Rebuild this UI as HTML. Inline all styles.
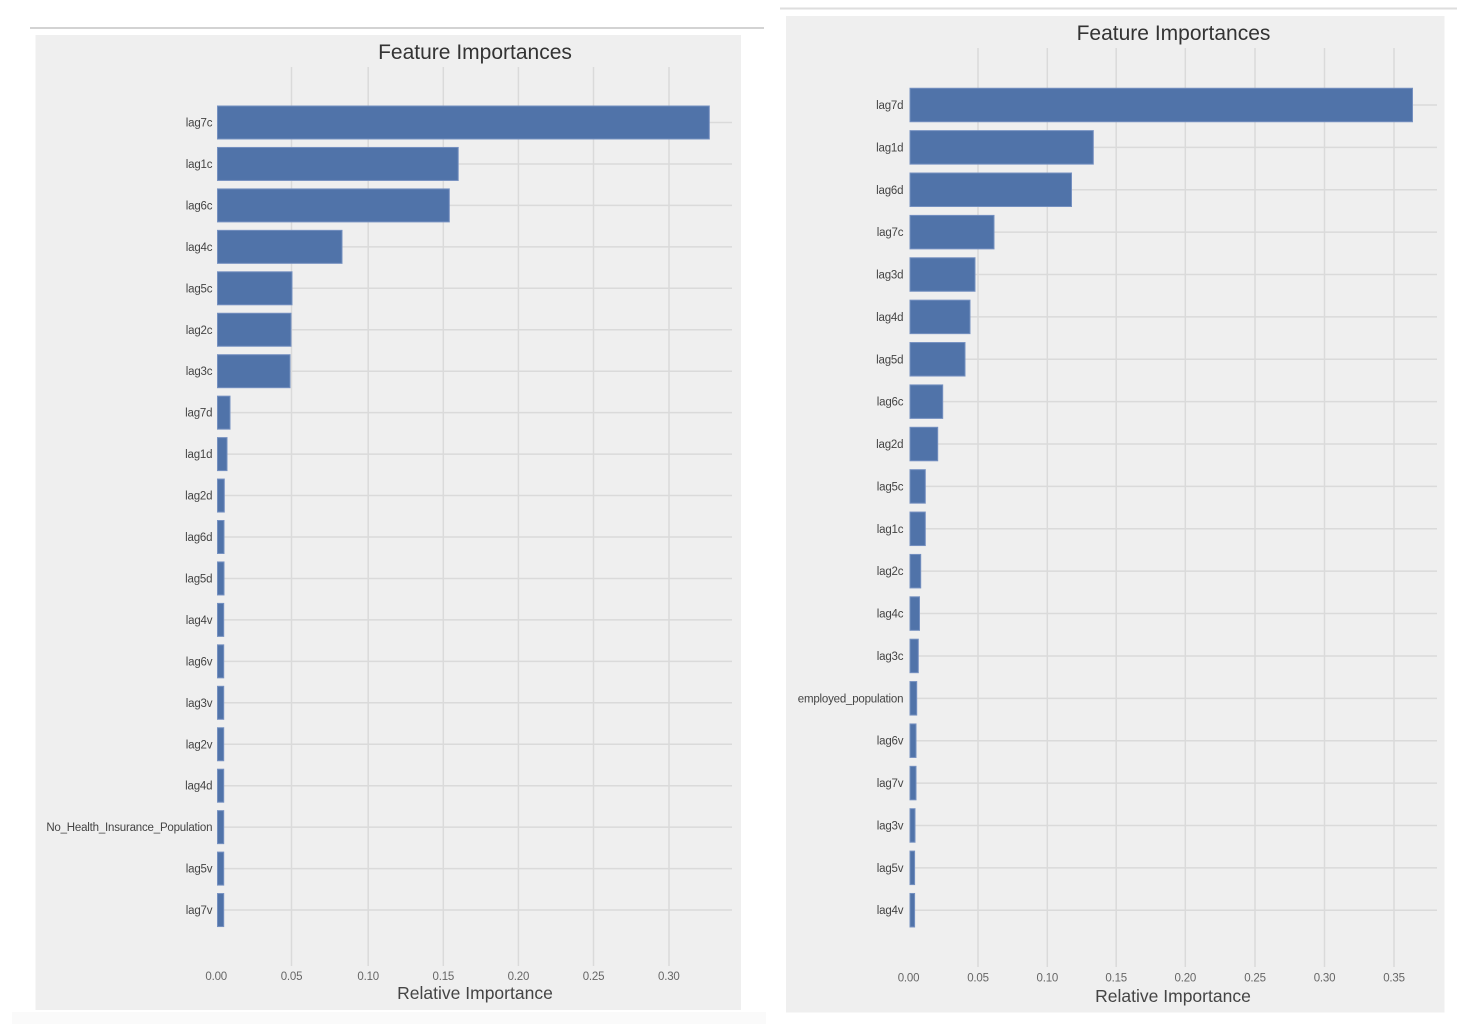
<!DOCTYPE html>
<html>
<head>
<meta charset="utf-8">
<style>
html,body{margin:0;padding:0;background:#ffffff;}
body{width:1474px;height:1030px;overflow:hidden;}
svg{display:block;}
text{font-family:"Liberation Sans",Arial,sans-serif;}
.yl{font-size:11.5px;fill:#444;text-anchor:end;letter-spacing:-0.2px;}
.xt{font-size:11.5px;fill:#666;text-anchor:middle;letter-spacing:-0.2px;}
.ttl{font-size:21px;fill:#333;text-anchor:middle;}
.xl{font-size:17.5px;fill:#444;text-anchor:middle;}
.g{stroke:#dadada;stroke-width:1.5;}
.b{fill:#5073a9;stroke:#7590c0;stroke-width:1;}
</style>
</head>
<body>
<svg width="1474" height="1030" viewBox="0 0 1474 1030" xmlns="http://www.w3.org/2000/svg">
<!-- separators -->
<line x1="30" y1="28" x2="764" y2="28" stroke="#d3d3d3" stroke-width="2"/>
<line x1="780" y1="8.5" x2="1457" y2="8.5" stroke="#dedede" stroke-width="2"/>
<rect x="12" y="1012" width="754" height="12" fill="#fafafa"/>

<!-- LEFT PANEL -->
<rect x="35.5" y="35" width="705.5" height="975" fill="#efefef"/>
<text class="ttl" x="475" y="59">Feature Importances</text>
<!-- vertical grid -->
<g class="g">
<line x1="291.5" y1="67" x2="291.5" y2="966"/>
<line x1="368.2" y1="67" x2="368.2" y2="966"/>
<line x1="443.3" y1="67" x2="443.3" y2="966"/>
<line x1="518.4" y1="67" x2="518.4" y2="966"/>
<line x1="593.5" y1="67" x2="593.5" y2="966"/>
<line x1="669" y1="67" x2="669" y2="966"/>
</g>
<!-- horizontal grid -->
<g class="g">
<line x1="217" y1="122.5" x2="732" y2="122.5"/>
<line x1="217" y1="163.95" x2="732" y2="163.95"/>
<line x1="217" y1="205.4" x2="732" y2="205.4"/>
<line x1="217" y1="246.85" x2="732" y2="246.85"/>
<line x1="217" y1="288.3" x2="732" y2="288.3"/>
<line x1="217" y1="329.75" x2="732" y2="329.75"/>
<line x1="217" y1="371.2" x2="732" y2="371.2"/>
<line x1="217" y1="412.65" x2="732" y2="412.65"/>
<line x1="217" y1="454.1" x2="732" y2="454.1"/>
<line x1="217" y1="495.55" x2="732" y2="495.55"/>
<line x1="217" y1="537" x2="732" y2="537"/>
<line x1="217" y1="578.45" x2="732" y2="578.45"/>
<line x1="217" y1="619.9" x2="732" y2="619.9"/>
<line x1="217" y1="661.35" x2="732" y2="661.35"/>
<line x1="217" y1="702.8" x2="732" y2="702.8"/>
<line x1="217" y1="744.25" x2="732" y2="744.25"/>
<line x1="217" y1="785.7" x2="732" y2="785.7"/>
<line x1="217" y1="827.15" x2="732" y2="827.15"/>
<line x1="217" y1="868.6" x2="732" y2="868.6"/>
<line x1="217" y1="910.05" x2="732" y2="910.05"/>
</g>
<!-- bars -->
<g class="b">
<rect x="217.5" y="106" width="491.8" height="33"/>
<rect x="217.5" y="147.45" width="240.7" height="33"/>
<rect x="217.5" y="188.9" width="231.8" height="33"/>
<rect x="217.5" y="230.35" width="124.5" height="33"/>
<rect x="217.5" y="271.8" width="74.5" height="33"/>
<rect x="217.5" y="313.25" width="73.5" height="33"/>
<rect x="217.5" y="354.7" width="72.5" height="33"/>
<rect x="217.5" y="396.15" width="12.5" height="33"/>
<rect x="217.5" y="437.6" width="9.5" height="33"/>
<rect x="217.5" y="479.05" width="6.8" height="33"/>
<rect x="217.5" y="520.5" width="6.5" height="33"/>
<rect x="217.5" y="561.95" width="6.5" height="33"/>
<rect x="217.5" y="603.4" width="6.2" height="33"/>
<rect x="217.5" y="644.85" width="6.2" height="33"/>
<rect x="217.5" y="686.3" width="6.2" height="33"/>
<rect x="217.5" y="727.75" width="6.2" height="33"/>
<rect x="217.5" y="769.2" width="6.2" height="33"/>
<rect x="217.5" y="810.65" width="6.2" height="33"/>
<rect x="217.5" y="852.1" width="6.2" height="33"/>
<rect x="217.5" y="893.55" width="6.2" height="33"/>
</g>
<!-- y labels -->
<g class="yl">
<text x="212.3" y="126.5">lag7c</text>
<text x="212.3" y="167.95">lag1c</text>
<text x="212.3" y="209.4">lag6c</text>
<text x="212.3" y="250.85">lag4c</text>
<text x="212.3" y="292.3">lag5c</text>
<text x="212.3" y="333.75">lag2c</text>
<text x="212.3" y="375.2">lag3c</text>
<text x="212.3" y="416.65">lag7d</text>
<text x="212.3" y="458.1">lag1d</text>
<text x="212.3" y="499.55">lag2d</text>
<text x="212.3" y="541">lag6d</text>
<text x="212.3" y="582.45">lag5d</text>
<text x="212.3" y="623.9">lag4v</text>
<text x="212.3" y="665.35">lag6v</text>
<text x="212.3" y="706.8">lag3v</text>
<text x="212.3" y="748.25">lag2v</text>
<text x="212.3" y="789.7">lag4d</text>
<text x="212.3" y="831.15">No_Health_Insurance_Population</text>
<text x="212.3" y="872.6">lag5v</text>
<text x="212.3" y="914.05">lag7v</text>
</g>
<!-- x ticks -->
<g class="xt">
<text x="216.2" y="980">0.00</text>
<text x="291.5" y="980">0.05</text>
<text x="368.2" y="980">0.10</text>
<text x="443.3" y="980">0.15</text>
<text x="518.4" y="980">0.20</text>
<text x="593.5" y="980">0.25</text>
<text x="668.8" y="980">0.30</text>
</g>
<text class="xl" x="475" y="999">Relative Importance</text>

<!-- RIGHT PANEL -->
<rect x="786" y="16" width="658.5" height="996.5" fill="#efefef"/>
<text class="ttl" x="1173.5" y="40">Feature Importances</text>
<g class="g">
<line x1="978" y1="48" x2="978" y2="967"/>
<line x1="1047.3" y1="48" x2="1047.3" y2="967"/>
<line x1="1116.2" y1="48" x2="1116.2" y2="967"/>
<line x1="1185.3" y1="48" x2="1185.3" y2="967"/>
<line x1="1255" y1="48" x2="1255" y2="967"/>
<line x1="1324.5" y1="48" x2="1324.5" y2="967"/>
<line x1="1394" y1="48" x2="1394" y2="967"/>
</g>
<g class="g">
<line x1="910" y1="105" x2="1437" y2="105"/>
<line x1="910" y1="147.38" x2="1437" y2="147.38"/>
<line x1="910" y1="189.76" x2="1437" y2="189.76"/>
<line x1="910" y1="232.14" x2="1437" y2="232.14"/>
<line x1="910" y1="274.52" x2="1437" y2="274.52"/>
<line x1="910" y1="316.9" x2="1437" y2="316.9"/>
<line x1="910" y1="359.28" x2="1437" y2="359.28"/>
<line x1="910" y1="401.66" x2="1437" y2="401.66"/>
<line x1="910" y1="444.04" x2="1437" y2="444.04"/>
<line x1="910" y1="486.42" x2="1437" y2="486.42"/>
<line x1="910" y1="528.8" x2="1437" y2="528.8"/>
<line x1="910" y1="571.18" x2="1437" y2="571.18"/>
<line x1="910" y1="613.56" x2="1437" y2="613.56"/>
<line x1="910" y1="655.94" x2="1437" y2="655.94"/>
<line x1="910" y1="698.32" x2="1437" y2="698.32"/>
<line x1="910" y1="740.7" x2="1437" y2="740.7"/>
<line x1="910" y1="783.08" x2="1437" y2="783.08"/>
<line x1="910" y1="825.46" x2="1437" y2="825.46"/>
<line x1="910" y1="867.84" x2="1437" y2="867.84"/>
<line x1="910" y1="910.22" x2="1437" y2="910.22"/>
</g>
<g class="b">
<rect x="910" y="88.25" width="502.5" height="33.5"/>
<rect x="910" y="130.63" width="183.3" height="33.5"/>
<rect x="910" y="173.01" width="161.5" height="33.5"/>
<rect x="910" y="215.39" width="84" height="33.5"/>
<rect x="910" y="257.77" width="65" height="33.5"/>
<rect x="910" y="300.15" width="60" height="33.5"/>
<rect x="910" y="342.53" width="55" height="33.5"/>
<rect x="910" y="384.91" width="32.7" height="33.5"/>
<rect x="910" y="427.29" width="27.7" height="33.5"/>
<rect x="910" y="469.67" width="15.3" height="33.5"/>
<rect x="910" y="512.05" width="15.3" height="33.5"/>
<rect x="910" y="554.43" width="10.7" height="33.5"/>
<rect x="910" y="596.81" width="9.5" height="33.5"/>
<rect x="910" y="639.19" width="8.3" height="33.5"/>
<rect x="910" y="681.57" width="6.7" height="33.5"/>
<rect x="910" y="723.95" width="6" height="33.5"/>
<rect x="910" y="766.33" width="6" height="33.5"/>
<rect x="910" y="808.71" width="5" height="33.5"/>
<rect x="910" y="851.09" width="4.6" height="33.5"/>
<rect x="910" y="893.47" width="4.6" height="33.5"/>
</g>
<g class="yl">
<text x="903.3" y="109">lag7d</text>
<text x="903.3" y="151.38">lag1d</text>
<text x="903.3" y="193.76">lag6d</text>
<text x="903.3" y="236.14">lag7c</text>
<text x="903.3" y="278.52">lag3d</text>
<text x="903.3" y="320.9">lag4d</text>
<text x="903.3" y="363.28">lag5d</text>
<text x="903.3" y="405.66">lag6c</text>
<text x="903.3" y="448.04">lag2d</text>
<text x="903.3" y="490.42">lag5c</text>
<text x="903.3" y="532.8">lag1c</text>
<text x="903.3" y="575.18">lag2c</text>
<text x="903.3" y="617.56">lag4c</text>
<text x="903.3" y="659.94">lag3c</text>
<text x="903.3" y="702.32">employed_population</text>
<text x="903.3" y="744.7">lag6v</text>
<text x="903.3" y="787.08">lag7v</text>
<text x="903.3" y="829.46">lag3v</text>
<text x="903.3" y="871.84">lag5v</text>
<text x="903.3" y="914.22">lag4v</text>
</g>
<g class="xt">
<text x="908.5" y="981.5">0.00</text>
<text x="978" y="981.5">0.05</text>
<text x="1047.3" y="981.5">0.10</text>
<text x="1116.2" y="981.5">0.15</text>
<text x="1185.3" y="981.5">0.20</text>
<text x="1255" y="981.5">0.25</text>
<text x="1324.5" y="981.5">0.30</text>
<text x="1394" y="981.5">0.35</text>
</g>
<text class="xl" x="1173" y="1002">Relative Importance</text>
</svg>
</body>
</html>
